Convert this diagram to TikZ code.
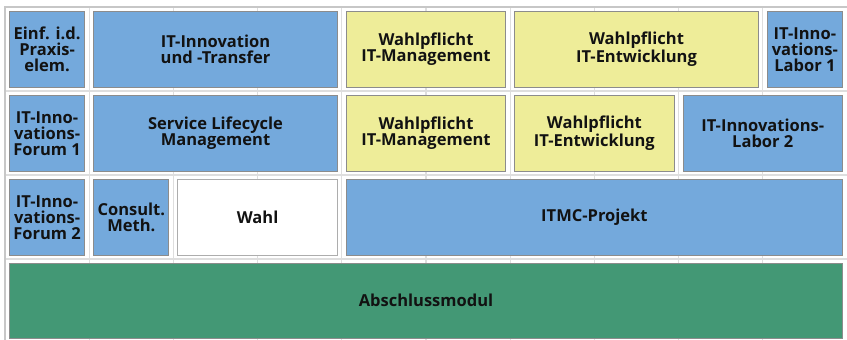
\documentclass[tikz,border=0pt]{standalone}
\usepackage{fontspec}
\setmainfont{Open Sans}
\usepackage{tikz}
\definecolor{modulblau}{RGB}{116,169,220}
\definecolor{modulgelb}{RGB}{238,237,153}
\definecolor{modulgruen}{RGB}{67,152,117}
\definecolor{rastergrau}{RGB}{222,222,222}
\tikzset{
  modul/.style={draw=black!45, line width=0.9pt, inner sep=0pt, align=center,
    minimum height=75.5pt, text=black!93, font=\fontsize{16.5}{16}\selectfont\bfseries},
  blaubox/.style={modul, fill=modulblau},
  gelbbox/.style={modul, fill=modulgelb},
  gruenbox/.style={modul, fill=modulgruen},
  wahlbox/.style={modul, draw=black!32, fill=white}
}

\begin{document}
\begin{tikzpicture}[x=1pt, y=-1pt]
			%%%%% START %%%%%
			
			\useasboundingbox (0, 0) rectangle (847, 340);
			
			% raster
			\draw[rastergrau, line width=1.1pt] (89.2, 7) -- (89.2, 340) (173.4, 7) -- (173.4, 340) (257.6, 7) -- (257.6, 340)
				(341.8, 7) -- (341.8, 340) (426, 7) -- (426, 340) (510.2, 7) -- (510.2, 340) (594.4, 7) -- (594.4, 340)
				(678.6, 7) -- (678.6, 340) (762.8, 7) -- (762.8, 340);
			\draw[rastergrau, line width=1.1pt] (5, 91) -- (847, 91) (5, 175) -- (847, 175) (5, 259) -- (847, 259);
			\draw[black!22, line width=1.3pt] (5, 340) -- (5, 7) -- (847, 7);
			
			% zeile 1
			\node[blaubox, minimum width=75.2pt] (einf) at (47.1, 49.25) {Einf. i.d.\\Praxis-\\elem.};
			\node[blaubox, minimum width=243.6pt] (transfer) at (215.5, 49.25) {IT-Innovation\\und -Transfer};
			\node[gelbbox, minimum width=159.4pt] (wpmanagement1) at (426, 49.25) {Wahlpflicht\\IT-Management};
			\node[gelbbox, minimum width=243.6pt] (wpentwicklung1) at (636.5, 49.25) {Wahlpflicht\\IT-Entwicklung};
			\node[blaubox, minimum width=75.2pt] (labor1) at (804.9, 49.25) {IT-Inno-\\vations-\\Labor 1};
			
			% zeile 2
			\node[blaubox, minimum width=75.2pt] (forum1) at (47.1, 133.25) {IT-Inno-\\vations-\\Forum 1};
			\node[blaubox, minimum width=243.6pt] (lifecycle) at (215.5, 133.25) {Service Lifecycle\\Management};
			\node[gelbbox, minimum width=159.4pt] (wpmanagement2) at (426, 133.25) {Wahlpflicht\\IT-Management};
			\node[gelbbox, minimum width=159.4pt] (wpentwicklung2) at (594.4, 133.25) {Wahlpflicht\\IT-Entwicklung};
			\node[blaubox, minimum width=159.4pt] (labor2) at (762.8, 133.25) {IT-Innovations-\\Labor 2};
			
			% zeile 3
			\node[blaubox, minimum width=75.2pt] (forum2) at (47.1, 217.25) {IT-Inno-\\vations-\\Forum 2};
			\node[blaubox, minimum width=75.2pt] (consult) at (131.3, 217.25) {Consult.\\Meth.};
			\node[wahlbox, minimum width=159.4pt] (wahl) at (257.6, 217.25) {Wahl};
			\node[blaubox, minimum width=496.2pt] (itmc) at (594.4, 217.25) {ITMC-Projekt};
			
			% zeile 4
			\node[gruenbox, minimum width=833pt, minimum height=74.5pt] (abschluss) at (426, 300.75) {Abschlussmodul};
			
			%%%%% END %%%%%
		\end{tikzpicture}
\end{document}
